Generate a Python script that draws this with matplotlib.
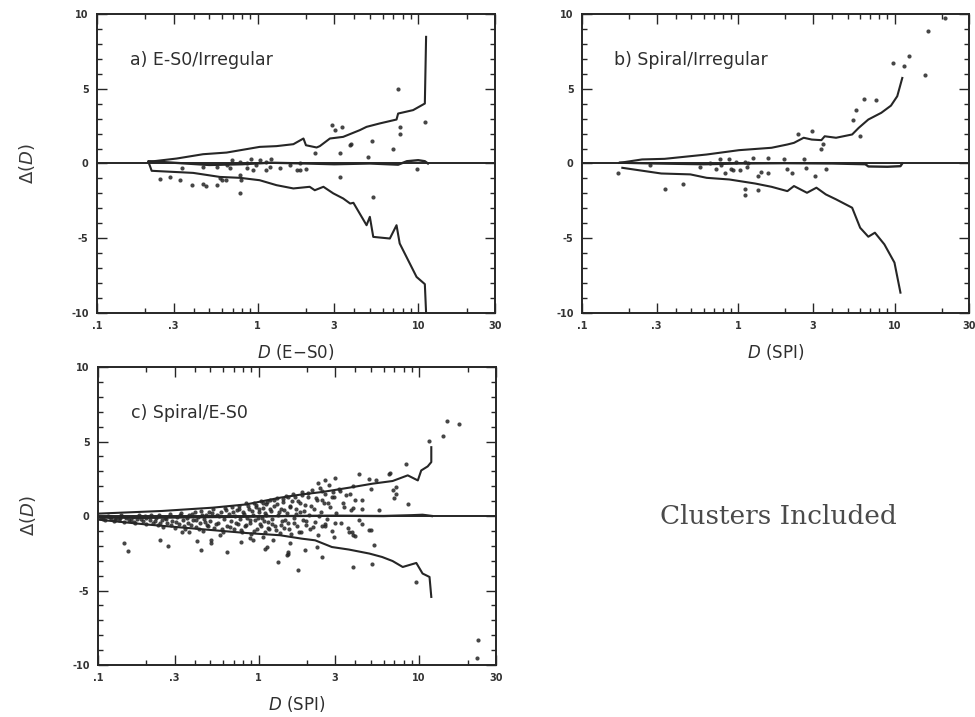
import matplotlib
matplotlib.use("Agg")
import matplotlib.pyplot as plt
from matplotlib.ticker import FixedLocator, FixedFormatter, MultipleLocator

# ---- a) E-S0 / Irregular ----
a_up_x = [0.209, 0.313, 0.458, 0.641, 1.03, 1.31, 1.67, 1.93, 2.0, 2.33, 2.44, 2.82, 3.41, 4.33, 4.77, 5.77, 7.33, 7.5, 9.3, 11.0, 11.2]
a_up_y = [0.11, 0.33, 0.62, 0.73, 1.11, 1.16, 1.29, 1.67, 1.22, 1.07, 1.16, 1.67, 1.78, 2.23, 2.45, 2.68, 2.94, 3.34, 3.57, 4.01, 8.47]
a_lo_x = [0.209, 0.219, 0.397, 0.582, 0.776, 1.03, 1.31, 1.67, 2.11, 2.27, 2.57, 2.96, 3.41, 3.77, 3.95, 4.77, 5.0, 5.25, 6.66, 7.33, 7.67, 9.77, 11.0, 11.2]
a_lo_y = [0.11, -0.49, -0.63, -0.9, -0.96, -1.12, -1.45, -1.67, -1.56, -1.79, -1.56, -2.0, -2.34, -2.68, -2.63, -4.13, -3.57, -4.91, -5.02, -4.13, -5.35, -7.59, -8.07, -10.0]
a_mid_x = [0.21, 0.3, 0.5, 0.8, 1.2, 2.0, 3.0, 5.0, 7.5, 8.5, 10.0, 11.0, 11.5]
a_mid_y = [0.15, 0.05, -0.1, -0.05, 0.05, 0.0, -0.05, 0.0, -0.08, 0.15, 0.22, 0.15, 0.0]
a_pts_x = [7.5, 11.0, 2.89, 3.04, 3.33, 7.67, 7.67, 3.77, 5.13, 7.0, 4.87, 3.26, 2.27, 9.77, 3.26, 5.25, 2.0, 1.83,
           0.247, 0.284, 0.328, 0.388, 0.458, 0.48, 0.556, 0.582, 0.776, 0.776, 0.79, 0.336, 0.458, 0.556, 0.641,
           0.69, 0.776, 0.86, 0.91, 0.98, 1.03, 1.13, 1.19, 1.21, 1.38, 1.6, 1.75, 1.83, 1.13, 0.86, 0.93, 0.67,
           0.6, 0.64, 3.8]
a_pts_y = [4.95, 2.78, 2.56, 2.23, 2.45, 2.45, 2.0, 1.22, 1.51, 0.94, 0.44, 0.71, 0.71, -0.4, -0.9, -2.23, -0.4, -0.45,
           -1.05, -0.9, -1.12, -1.45, -1.34, -1.52, -1.45, -1.0, -2.0, -0.78, -1.1, -0.33, -0.22, -0.22, -0.11,
           0.22, 0.1, 0.0, 0.33, -0.1, 0.22, 0.11, -0.22, 0.33, -0.33, -0.11, -0.45, 0.0, -0.45, -0.33, -0.45, -0.33,
           -1.1, -1.12, 1.3]

# ---- b) Spiral / Irregular ----
b_up_x = [0.173, 0.242, 0.337, 0.627, 1.01, 1.63, 2.06, 2.27, 2.62, 2.95, 3.4, 3.57, 4.22, 5.35, 5.89, 6.79, 8.22, 9.48, 10.4, 11.2]
b_up_y = [0.04, 0.27, 0.31, 0.6, 0.89, 1.05, 1.27, 1.38, 1.72, 1.6, 1.56, 1.82, 1.72, 1.94, 2.38, 2.94, 3.39, 3.87, 4.5, 5.72]
b_lo_x = [0.181, 0.321, 0.493, 0.627, 0.875, 1.28, 1.63, 2.06, 2.27, 2.75, 3.16, 3.63, 4.22, 5.35, 6.02, 6.79, 7.48, 8.6, 9.98, 10.9]
b_lo_y = [-0.29, -0.67, -0.73, -0.96, -1.07, -1.34, -1.56, -1.85, -1.51, -1.96, -1.62, -2.07, -2.4, -2.96, -4.3, -4.9, -4.63, -5.41, -6.63, -8.64]
b_mid_x = [0.175, 0.3, 0.6, 1.0, 2.0, 4.0, 6.5, 6.8, 9.0, 10.9, 11.2]
b_mid_y = [0.05, 0.0, -0.05, 0.0, 0.02, 0.0, -0.05, -0.2, -0.22, -0.18, 0.0]
b_pts_x = [9.73, 11.5, 12.3, 15.7, 16.4, 21.0, 6.4, 7.55, 5.7, 5.45, 6.02, 3.5, 3.4, 2.95, 2.4, 2.62, 2.7, 3.1, 3.63,
           0.169, 0.272, 0.337, 0.44, 0.57, 0.72, 0.76, 0.875, 0.9, 0.97, 1.03, 1.1, 1.13, 1.15, 1.25, 1.34, 1.4,
           1.1, 1.1, 1.34, 1.55, 1.55, 1.95, 2.06, 2.2, 0.78, 0.66, 0.82, 0.92]
b_pts_y = [6.73, 6.5, 7.17, 5.95, 8.84, 9.7, 4.32, 4.23, 3.6, 2.94, 1.87, 1.27, 0.94, 2.16, 1.94, 0.27, -0.29, -0.85, -0.4,
           -0.62, -0.13, -1.74, -1.34, -0.22, -0.4, 0.27, 0.27, -0.36, 0.13, -0.45, 0.13, -0.22, 0.0, 0.38, -0.85, -0.6,
           -1.69, -2.14, -1.8, 0.38, -0.62, 0.27, -0.4, -0.67, -0.13, 0.04, -0.67, -0.45]

# ---- c) Spiral / E-S0 ----
c_up_x = [0.1, 0.251, 0.517, 0.838, 1.36, 1.86, 2.48, 3.65, 5.11, 6.83, 8.49, 9.81, 10.3, 11.3, 11.9, 11.9]
c_up_y = [0.16, 0.34, 0.56, 0.78, 1.23, 1.45, 1.61, 1.9, 2.17, 2.35, 2.73, 2.39, 3.06, 3.33, 3.62, 4.62]
c_lo_x = [0.1, 0.197, 0.406, 0.838, 1.36, 1.86, 2.25, 2.86, 3.65, 4.9, 5.88, 6.83, 7.9, 9.6, 10.5, 11.6, 11.9]
c_lo_y = [-0.24, -0.56, -0.85, -1.14, -1.29, -1.52, -1.63, -2.08, -2.25, -2.52, -2.75, -3.02, -3.42, -3.15, -3.86, -4.09, -5.43]
c_mid_x = [0.1, 0.2, 0.4, 0.8, 1.5, 3.0, 6.0, 9.0, 10.5, 12.0]
c_mid_y = [-0.1, -0.12, -0.08, -0.05, 0.0, 0.02, 0.0, 0.05, 0.08, 0.0]
c_pts_x = [
    # outlying points
    15.0, 17.8, 14.1, 11.5, 8.3, 6.6, 6.9, 7.0, 8.5, 5.6, 4.2, 5.35, 5.0, 4.4, 3.9, 4.4, 3.0, 2.6, 2.9, 2.35, 2.5,
    4.4, 3.65, 3.9, 4.0, 4.9, 5.2, 3.9, 5.12, 9.6, 2.94, 2.48, 2.3, 1.95, 1.77, 1.53, 1.5, 2.6, 23.4, 22.9,
    1.33, 4.9, 7.2, 7.2, 6.5, 3.8, 5.0,
    0.146, 0.154, 0.245, 0.273, 0.416, 0.436, 0.505, 0.505, 0.575, 0.635, 0.78, 0.89, 0.92, 1.07, 1.09, 1.13,
    1.53, 1.56, 1.23, 0.334, 0.37,
    # dense band
    0.105, 0.11, 0.115, 0.12, 0.125, 0.13, 0.135, 0.14, 0.145, 0.15, 0.16, 0.165, 0.17, 0.175, 0.18, 0.19, 0.2, 0.2,
    0.21, 0.215, 0.22, 0.23, 0.235, 0.24, 0.25, 0.255, 0.26, 0.27, 0.28, 0.29, 0.3,
    0.31, 0.32, 0.33, 0.34, 0.35, 0.36, 0.37, 0.38, 0.39, 0.4, 0.41, 0.42, 0.43, 0.44, 0.45, 0.46, 0.47, 0.48, 0.49,
    0.5, 0.52, 0.53, 0.55, 0.56, 0.58, 0.6, 0.61, 0.62, 0.64, 0.65, 0.67, 0.68, 0.7, 0.71, 0.73, 0.74, 0.76, 0.77, 0.79,
    0.8, 0.82, 0.84, 0.85, 0.87, 0.88, 0.9, 0.92, 0.93, 0.95, 0.97, 0.98, 1.0, 1.02, 1.04, 1.05, 1.07, 1.09, 1.1,
    1.12, 1.14, 1.16, 1.18, 1.19,
    1.22, 1.25, 1.27, 1.3, 1.32, 1.35, 1.37, 1.4, 1.42, 1.45, 1.48, 1.5, 1.53, 1.56, 1.6, 1.63, 1.66, 1.7, 1.73,
    1.76, 1.8, 1.84, 1.87, 1.9, 1.95, 1.98,
    2.02, 2.06, 2.1, 2.15, 2.2, 2.25, 2.3, 2.35, 2.4, 2.45, 2.5, 2.55, 2.6, 2.68, 2.75, 2.8, 2.88, 2.95, 3.05, 3.15,
    3.25, 3.35, 3.5, 3.6, 3.75, 3.9, 4.0, 4.2,
    # second pass through the band
    0.108, 0.118, 0.128, 0.138, 0.155, 0.168, 0.185, 0.195, 0.225, 0.245, 0.265, 0.285, 0.305, 0.325, 0.345,
    0.365, 0.385, 0.405, 0.425, 0.445, 0.465, 0.485, 0.51, 0.54, 0.57, 0.59, 0.63, 0.66, 0.69, 0.72, 0.75, 0.78,
    0.81, 0.83, 0.86, 0.89, 0.91, 0.94, 0.96, 0.99, 1.01, 1.03, 1.06, 1.08, 1.11, 1.13, 1.15, 1.17, 1.21, 1.24,
    1.28, 1.31, 1.34, 1.38, 1.41, 1.44, 1.47, 1.52, 1.55, 1.58, 1.62, 1.65, 1.69, 1.72, 1.78, 1.82, 1.86, 1.92,
    1.97, 2.04, 2.12, 2.18, 2.28, 2.38, 2.48, 2.58, 2.7, 2.85, 3.0, 3.2, 3.4, 3.7]
c_pts_y = [
    6.37, 6.19, 5.34, 5.03, 3.47, 2.88, 1.77, 1.23, 0.78, 0.43, 2.79, 2.39, 1.83, 1.05, 0.56, 0.5, 2.57, 2.44, 1.6, 2.2, 1.05,
    -0.51, -1.07, -1.3, -1.37, -0.96, -1.96, -3.42, -3.19, -4.42, -1.41, -2.75, -2.08, -2.3, -3.64, -2.52, -2.6, -0.7, -8.33, -9.56,
    -3.1, 2.5, 1.95, 1.5, 2.84, -1.07, -0.96,
    -1.81, -2.35, -1.63, -2.01, -1.68, -2.25, -1.58, -1.81, -1.29, -2.41, -1.74, -1.45, -1.6, -1.41, -2.18, -2.1,
    -2.41, -1.8, -1.6, -1.07, -1.07,
    -0.1, -0.3, 0.0, -0.2, -0.35, -0.1, -0.25, 0.05, -0.4, -0.15, -0.3, -0.05, -0.45, -0.2, 0.05, -0.35, -0.1, -0.55,
    -0.25, 0.1, -0.45, -0.15, -0.6, 0.05, -0.3, -0.75, -0.1, -0.5, 0.15, -0.35, -0.8,
    -0.05, -0.55, 0.2, -0.3, -0.9, -0.15, 0.1, -0.6, -0.3, 0.25, -0.75, -0.05, -0.45, 0.35, -1.0, -0.2, 0.1, -0.6, 0.3,
    -0.35, 0.45, -0.8, 0.05, -0.5, 0.3, -1.05, -0.2, 0.55, -0.65, 0.15, -0.35, 0.6, -0.9, 0.0, 0.4, -0.55, 0.7, -0.2, -1.1,
    0.3, -0.7, 0.85, -0.1, 0.5, -0.45, -1.2, 0.1, 0.9, -0.3, 0.6, -0.85, 0.25, -0.55, 1.0, -0.15, 0.55, -1.05, 0.2,
    0.8, -0.4, -0.9, 1.1, 0.35,
    -0.2, 0.65, -0.7, 1.2, 0.1, -1.15, 0.45, -0.35, 0.95, -0.8, 1.35, 0.2, -0.5, 0.7, -1.2, 1.45, -0.1, 0.5, -0.7,
    1.0, 0.3, -1.05, 1.6, -0.3, 0.75, -0.6,
    1.3, 0.1, -0.9, 1.75, 0.5, -0.4, 1.1, -1.3, 1.9, 0.3, -0.7, 0.85, 1.5, -0.2, 2.1, 0.6, -1.0, 1.25, 0.2, 1.8,
    -0.5, 0.9, 1.4, -0.8, 0.4, 2.0, 1.1, -0.3,
    -0.2, -0.05, -0.3, -0.15, -0.25, -0.4, -0.2, 0.0, -0.35, -0.5, -0.2, -0.6, -0.4, 0.05, -0.65, -0.45, 0.15,
    -0.25, -0.85, 0.1, -0.4, -0.7, 0.2, -0.55, 0.0, -0.9, 0.4, -0.75, 0.25, -0.45, 0.5, -0.95, 0.15, -0.6, 0.65,
    -0.25, 0.35, -1.0, 0.75, -0.1, 0.45, -0.7, 0.85, -0.35, 0.05, 0.95, -0.8, 0.5, -0.55, 1.05, -0.95, 0.8, 0.25,
    -0.6, 1.15, 0.4, -0.25, 1.3, -0.9, 0.6, 1.0, -0.45, 1.25, 0.15, -1.1, 0.9, 1.4, 0.35, -0.35, 1.55, 0.7, -0.75,
    1.2, 0.0, 1.65, -0.55, 0.9, 1.3, -0.45, 1.7, 0.6, 1.5]

x_ticks = [0.1, 0.3, 1, 3, 10, 30]
x_ticklabels = ['.1', '.3', '1', '3', '10', '30']
y_ticks = [-10, -5, 0, 5, 10]
y_ticklabels = ['-10', '-5', '0', '5', '10']

ink = '#262626'


def draw_panel(ax, up, lo, mid, pts, label, xlabel, ylabel):
    ax.set_xscale('log')
    ax.set_xlim(0.1, 30)
    ax.set_ylim(-10, 10)
    ax.axhline(0, color=ink, lw=1.4)
    ax.plot(up[0], up[1], color=ink, lw=1.5)
    ax.plot(lo[0], lo[1], color=ink, lw=1.5)
    ax.plot(mid[0], mid[1], color=ink, lw=1.7)
    ax.plot(pts[0], pts[1], 'o', color=ink, ms=3.0, mew=0, alpha=0.85)

    ax.xaxis.set_major_locator(FixedLocator(x_ticks))
    ax.xaxis.set_major_formatter(FixedFormatter(x_ticklabels))
    minors = [m * d for d in (0.1, 1, 10) for m in range(2, 10)]
    ax.xaxis.set_minor_locator(FixedLocator(minors))
    ax.yaxis.set_major_locator(FixedLocator(y_ticks))
    ax.yaxis.set_major_formatter(FixedFormatter(y_ticklabels))
    ax.yaxis.set_minor_locator(MultipleLocator(1))
    ax.tick_params(which='both', direction='in', top=True, right=True, color=ink, width=1.0)
    ax.tick_params(which='major', length=7, labelsize=7, pad=6, labelcolor='#333333')
    ax.tick_params(which='minor', length=3.5)
    for lbl in ax.get_xticklabels() + ax.get_yticklabels():
        lbl.set_fontweight('bold')
    for sp in ax.spines.values():
        sp.set_color(ink)
        sp.set_linewidth(1.4)

    ax.text(0.083, 0.845, label, transform=ax.transAxes, fontsize=12.5,
            color='#2e2e2e', va='center', ha='left')
    ax.set_xlabel(xlabel, fontsize=12, color='#2e2e2e', labelpad=8)
    if ylabel:
        ax.text(-0.176, 0.5, r'$\Delta(D)$', transform=ax.transAxes, rotation=90,
                fontsize=13, color='#3a3a3a', ha='center', va='center')


plt.rcParams['mathtext.fontset'] = 'dejavusans'
fig = plt.figure(figsize=(9.75, 7.17), dpi=100)

ax_a = fig.add_axes([0.0995, 0.5635, 0.408, 0.417])
ax_b = fig.add_axes([0.597, 0.5635, 0.397, 0.417])
ax_c = fig.add_axes([0.1005, 0.0725, 0.408, 0.4156])

draw_panel(ax_a, (a_up_x, a_up_y), (a_lo_x, a_lo_y), (a_mid_x, a_mid_y), (a_pts_x, a_pts_y),
           'a) E-S0/Irregular', r'$D$ (E$-$S0)', True)
draw_panel(ax_b, (b_up_x, b_up_y), (b_lo_x, b_lo_y), (b_mid_x, b_mid_y), (b_pts_x, b_pts_y),
           'b) Spiral/Irregular', r'$D$ (SPI)', False)
draw_panel(ax_c, (c_up_x, c_up_y), (c_lo_x, c_lo_y), (c_mid_x, c_mid_y), (c_pts_x, c_pts_y),
           'c) Spiral/E-S0', r'$D$ (SPI)', True)

fig.text(0.798, 0.279, 'Clusters Included', family='DejaVu Serif', fontsize=19,
         color='#4a4a4a', ha='center', va='center')

fig.savefig('out.png', dpi=100)
